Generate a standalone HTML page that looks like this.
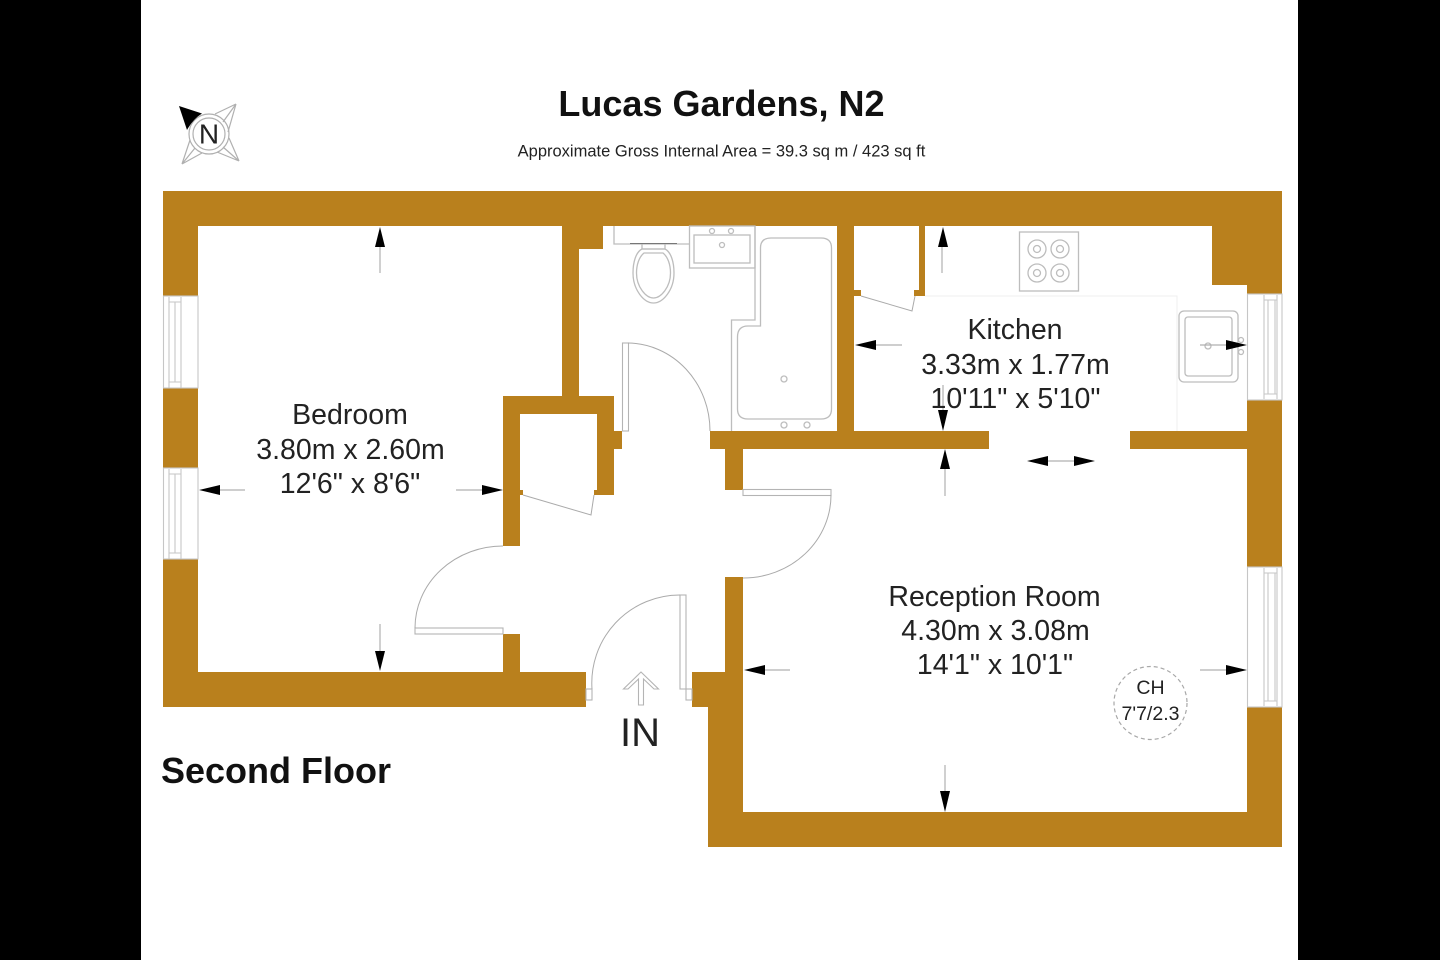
<!DOCTYPE html>
<html lang="en">
<head>
<meta charset="utf-8">
<title>Lucas Gardens, N2</title>
<style>
html,body{margin:0;padding:0;background:#000;width:1440px;height:960px;overflow:hidden}
svg{display:block}
text{font-family:"Liberation Sans",sans-serif;fill:#222}
.w{fill:#b9801d}
.f{fill:none;stroke:#bdbdbd;stroke-width:1.3}
.d{fill:#fff;stroke:#b4b4b4;stroke-width:1.1}
.a{fill:none;stroke:#aaa;stroke-width:1}
.g{fill:none;stroke:#c6c6c6;stroke-width:1.1}
.l{stroke:#b0b0b0;stroke-width:1.2}
.t{fill:#000}
.m{font-size:28.5px;text-anchor:middle}
</style>
</head>
<body>
<svg width="1440" height="960" viewBox="0 0 1440 960" xmlns="http://www.w3.org/2000/svg">
<rect x="0" y="0" width="1440" height="960" fill="#000"/>
<rect x="141" y="0" width="1157" height="960" fill="#fff"/>

<!-- walls -->
<g class="w">
<rect x="163" y="191" width="1119" height="35"/>
<rect x="163" y="191" width="35" height="105"/>
<rect x="163" y="388" width="35" height="80"/>
<rect x="163" y="559" width="35" height="148"/>
<rect x="163" y="672" width="423" height="35"/>
<rect x="503" y="634" width="17" height="38"/>
<rect x="562" y="226" width="17" height="171"/>
<rect x="562" y="226" width="41" height="23"/>
<rect x="503" y="396" width="111" height="18"/>
<rect x="503" y="396" width="17" height="150"/>
<rect x="597" y="396" width="17" height="99"/>
<rect x="594" y="490" width="3" height="5"/>
<rect x="520" y="490" width="3" height="5"/>
<rect x="614" y="431" width="8" height="18"/>
<rect x="710" y="431" width="279" height="18"/>
<rect x="1130" y="431" width="118" height="18"/>
<rect x="725" y="449" width="18" height="41"/>
<rect x="725" y="577" width="18" height="130"/>
<rect x="692" y="672" width="51" height="35"/>
<rect x="708" y="707" width="35" height="140"/>
<rect x="708" y="812" width="574" height="35"/>
<rect x="1247" y="707" width="35" height="140"/>
<rect x="1247" y="400" width="35" height="167"/>
<rect x="1212" y="226" width="70" height="59"/>
<rect x="1247" y="285" width="35" height="9"/>
<rect x="837" y="226" width="17" height="206"/>
<rect x="854" y="290" width="7" height="6"/>
<rect x="919" y="226" width="6" height="70"/>
<rect x="914" y="290" width="11" height="6"/>
</g>

<!-- windows -->
<g class="g">
<rect x="163.500" y="296" width="34.500" height="92"/>
<path d="M169 297V388M175 302V382M181 297V388M169 302H181M169 382H181"/>
<rect x="163.500" y="468" width="34.500" height="91"/>
<path d="M169 469V559M175 474V553M181 469V559M169 474H181M169 553H181"/>
<rect x="1247.500" y="294" width="34.500" height="106"/>
<path d="M1264 295V399M1268 300V394M1275 300V394M1277 295V399M1264 300H1277M1264 394H1277"/>
<rect x="1247.500" y="567" width="34.500" height="140"/>
<path d="M1264 568V706M1268 573V701M1275 573V701M1277 568V706M1264 573H1277M1264 701H1277"/>
</g>

<!-- bathroom fixtures -->
<g class="f">
<path d="M614 226V244H689"/>
<path d="M642 244V249H665V244"/>
<path d="M642 249C636 252 633 262 633 273C633 290 644 303 653.500 303C663 303 674 290 674 273C674 262 671 252 665 249Z"/>
<path d="M644 253C639 257 636.500 265 636.500 273C636.500 287 646 298 653.500 298C661 298 670.500 287 670.500 273C670.500 265 668 257 663 253Z"/>
<rect x="689.500" y="226" width="65.500" height="42"/>
<rect x="694" y="235" width="56" height="28"/>
<circle cx="712" cy="231" r="2.500"/>
<circle cx="731" cy="231" r="2.500"/>
<circle cx="722" cy="245" r="2.500"/>
<path d="M755 226V320H731.500V431"/>
<path d="M760.500 326V248Q760.500 238 771 238H821Q831.500 238 831.500 248V409Q831.500 419 821 419H748Q737.500 419 737.500 409V337Q737.500 326 748 326Z"/>
<circle cx="784" cy="379" r="3"/>
<circle cx="784" cy="425" r="3"/>
<circle cx="807" cy="425" r="3"/>
</g>
<path d="M630 243.500H677" stroke="#777" stroke-width="1" fill="none"/>

<!-- kitchen fixtures -->
<path d="M925 296H1177V431" fill="none" stroke="#efefef" stroke-width="1"/>
<g class="f">
<rect x="1019.500" y="232" width="59" height="59"/>
<circle cx="1037" cy="249" r="9"/><circle cx="1037" cy="249" r="3.500"/>
<circle cx="1060" cy="249" r="9"/><circle cx="1060" cy="249" r="3.500"/>
<circle cx="1037" cy="273" r="9"/><circle cx="1037" cy="273" r="3.500"/>
<circle cx="1060" cy="273" r="9"/><circle cx="1060" cy="273" r="3.500"/>
<rect x="1179" y="311" width="59" height="71" rx="5"/>
<rect x="1185" y="317" width="47" height="59" rx="3"/>
<circle cx="1208" cy="346" r="3"/>
<circle cx="1241" cy="340" r="2.500"/>
<circle cx="1241" cy="352" r="2.500"/>
</g>

<!-- doors -->
<g class="d">
<rect x="622.500" y="343" width="6" height="88"/>
<rect x="743" y="489.500" width="88" height="6"/>
<rect x="415" y="628" width="88" height="6"/>
<rect x="680" y="595" width="6" height="94"/>
<rect x="586" y="689" width="6" height="11"/>
<rect x="686" y="689" width="6" height="11"/>
</g>
<g class="a">
<path d="M628 343A83 88 0 0 1 710 431"/>
<path d="M831 495A88 83 0 0 1 743 578"/>
<path d="M415 628A88 82 0 0 1 503 546"/>
<path d="M680 595A88 88 0 0 0 592 689"/>
<path d="M523 495L591 515L594 495"/>
<path d="M861 296L912 311L915 296"/>
</g>
<!-- IN arrow -->
<path d="M641 672L658.500 689H654L643.500 679V705H638.500V679L628 689H623.500Z" fill="#fff" stroke="#b4b4b4" stroke-width="1.100"/>

<!-- dimension arrows -->
<g class="l">
<line x1="380" y1="245" x2="380" y2="273"/>
<line x1="380" y1="624" x2="380" y2="655"/>
<line x1="212" y1="490" x2="245" y2="490"/>
<line x1="456" y1="490" x2="485" y2="490"/>
<line x1="870" y1="345" x2="902" y2="345"/>
<line x1="942" y1="240" x2="942" y2="273"/>
<line x1="943" y1="385" x2="943" y2="420"/>
<line x1="945" y1="465" x2="945" y2="496"/>
<line x1="1045" y1="461" x2="1078" y2="461"/>
<line x1="1200" y1="345" x2="1228" y2="345"/>
<line x1="758" y1="670" x2="790" y2="670"/>
<line x1="945" y1="765" x2="945" y2="795"/>
<line x1="1200" y1="670" x2="1232" y2="670"/>
</g>
<g class="t">
<path d="M380 227L385 247H375Z"/>
<path d="M380 671L375 651H385Z"/>
<path d="M199 490L220 485V495Z"/>
<path d="M503 490L482 485V495Z"/>
<path d="M855 345L876 340V350Z"/>
<path d="M943 227L948 247H938Z"/>
<path d="M943 431L938 410H948Z"/>
<path d="M945 449L950 469H940Z"/>
<path d="M1027 461L1048 456V466Z"/>
<path d="M1095 461L1074 456V466Z"/>
<path d="M1247 345L1226 340V350Z"/>
<path d="M744 670L765 665V675Z"/>
<path d="M945 812L940 791H950Z"/>
<path d="M1247 670L1226 665V675Z"/>
</g>

<!-- compass -->
<g fill="none" stroke="#b0b0b0" stroke-width="1.200">
<path d="M236 104L215 114M236 104L228 132M236 104L223 122"/>
<path d="M239 161L229 138M239 161L217 152M239 161L223 147"/>
<path d="M182 164L190 140M182 164L202 153M182 164L195 148"/>
<circle cx="209" cy="134" r="20"/>
<circle cx="209" cy="134" r="16"/>
</g>
<path d="M179 106L202 113.500Q193 119 187 130Z" fill="#000"/>
<text x="209" y="143.500" font-size="28" text-anchor="middle">N</text>

<!-- titles -->
<text x="721.500" y="116" font-size="36" font-weight="700" text-anchor="middle" style="fill:#111">Lucas Gardens, N2</text>
<text x="721.500" y="156.500" font-size="16.500" text-anchor="middle">Approximate Gross Internal Area = 39.3 sq m / 423 sq ft</text>
<text x="161" y="783" font-size="36" font-weight="700" style="fill:#111">Second Floor</text>

<!-- labels -->
<text class="m" x="350" y="424">Bedroom</text>
<text class="m" x="350.500" y="459">3.80m x 2.60m</text>
<text class="m" x="350" y="493">12'6" x 8'6"</text>

<text class="m" x="1015" y="339">Kitchen</text>
<text class="m" x="1015.500" y="374">3.33m x 1.77m</text>
<text class="m" x="1015.500" y="408">10'11" x 5'10"</text>

<text class="m" x="994.500" y="606">Reception Room</text>
<text class="m" x="995.500" y="640">4.30m x 3.08m</text>
<text class="m" x="995" y="674">14'1" x 10'1"</text>

<circle cx="1150.500" cy="703" r="36.500" fill="none" stroke="#a8a8a8" stroke-width="1.200" stroke-dasharray="4 3"/>
<text x="1150.500" y="694" font-size="19.500" text-anchor="middle">CH</text>
<text x="1150.500" y="720" font-size="19.500" text-anchor="middle">7'7/2.3</text>

<text x="640" y="746" font-size="40" text-anchor="middle">IN</text>
</svg>
</body>
</html>
